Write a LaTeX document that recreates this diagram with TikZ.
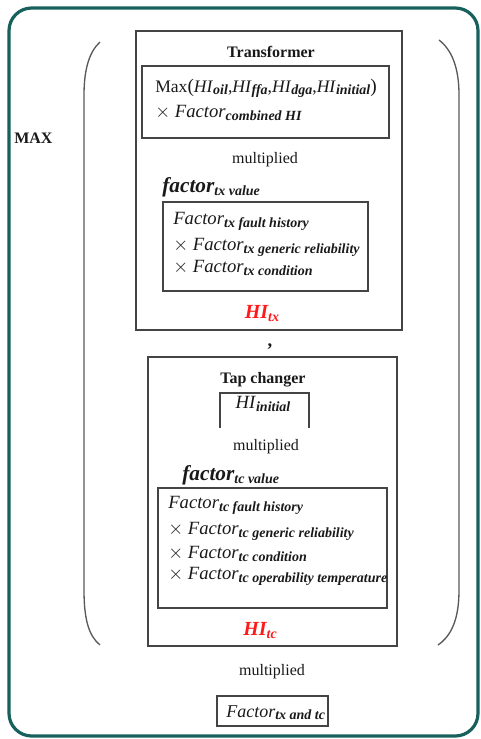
\documentclass[tikz,border=0pt]{standalone}
\usepackage{fontspec}
\setmainfont{Liberation Serif}
\usetikzlibrary{positioning}
\definecolor{frameteal}{HTML}{17605B}
\definecolor{boxgray}{HTML}{444444}
\definecolor{hired}{HTML}{FF1A1A}
\newcommand{\lowsub}[1]{\raisebox{-0.35ex}{\fontsize{10.5}{12}\selectfont\bfseries\itshape #1}}
\newcommand{\fac}[1]{\textit{Factor}\lowsub{#1}}
\newcommand{\hisub}[1]{\textit{HI}\lowsub{#1}}

\begin{document}
\begin{tikzpicture}[x=0.75pt,y=-0.75pt]
\tikzstyle{label} = [
	inner sep=0pt,
	text=black!90,
	font=\fontsize{12}{14}\selectfont
];
\tikzstyle{formula} = [
	label,
	anchor=base west,
	font=\fontsize{14}{16}\selectfont
];
\tikzstyle{result} = [
	label,
	anchor=base,
	text=hired,
	font=\fontsize{15}{16}\selectfont\bfseries\itshape
];
\tikzstyle{boxline} = [draw=boxgray, line width=1.1pt];
\tikzstyle{paren} = [draw=black!65, line width=1pt];

\useasboundingbox (0,0) rectangle (481,739);

%outer frame
\draw[frameteal, line width=2.4pt, rounded corners=17pt] (9,8) rectangle (478,736);

%max and brackets
\node[label, anchor=base west, font=\fontsize{12}{14}\selectfont\bfseries] (max) at (14,143) {MAX};
\draw[paren] (100,42) .. controls (89,52) and (84,70) .. (84,95) -- (84,590)
	.. controls (84,620) and (89,636) .. (100,645);
\draw[paren] (439,40) .. controls (452,50) and (459,68) .. (459,95) -- (459,590)
	.. controls (459,620) and (451,636) .. (438,645);

%transformer
\draw[boxline] (136,31) rectangle (402,330);
\node[label, anchor=base, font=\fontsize{12}{14}\selectfont\bfseries] (txtitle) at (271,57) {Transformer};
\draw[boxline] (142,66) rectangle (389,138);
\node[formula, font=\fontsize{13.2}{15}\selectfont] (txmax) at (155,92)
	{Max{\fontsize{14.5}{15}\selectfont(}\hisub{oil},\hisub{ffa},\hisub{dga},\hisub{initial}{\fontsize{14.5}{15}\selectfont)}};
\node[formula] (txcomb) at (155,117) {$\times$ \fac{combined HI}};
\node[label, anchor=base] (txmult) at (265,163) {multiplied};
\node[label, anchor=base west, font=\fontsize{16}{18}\selectfont\bfseries\itshape] (txvalue) at (162,192)
	{factor\lowsub{tx value}};
\draw[boxline] (163,202) rectangle (368,291);
\node[formula] (txfault) at (173,224) {\fac{tx fault history}};
\node[formula] (txgeneric) at (173,250) {$\times$ \fac{tx generic reliability}};
\node[formula] (txcond) at (173,272) {$\times$ \fac{tx condition}};
\node[result] (hitx) at (262,318) {HI\lowsub{tx}};

\node[label, anchor=base, font=\fontsize{14}{14}\selectfont\bfseries] (comma) at (270,346) {,};

%tap changer
\draw[boxline] (148,357) rectangle (397,646);
\node[label, anchor=base, font=\fontsize{12}{14}\selectfont\bfseries] (tctitle) at (263,383) {Tap changer};
\draw[boxline] (220,428) -- (220,393) -- (309,393) -- (309,428);
\node[formula, anchor=base] (tcinit) at (263,408) {\hisub{initial}};
\node[label, anchor=base] (tcmult) at (266,450) {multiplied};
\node[label, anchor=base west, font=\fontsize{16}{18}\selectfont\bfseries\itshape] (tcvalue) at (182,480)
	{factor\lowsub{tc value}};
\draw[boxline] (158,488) rectangle (387,608);
\node[formula] (tcfault) at (168,508) {\fac{tc fault history}};
\node[formula] (tcgeneric) at (168,534) {$\times$ \fac{tc generic reliability}};
\node[formula] (tccond) at (168,558) {$\times$ \fac{tc condition}};
\node[formula] (tcoper) at (168,579) {$\times$ \fac{tc operability temperature}};
\node[result] (hitc) at (260,635) {HI\lowsub{tc}};

%combined factor
\node[label, anchor=base] (mult) at (272,675) {multiplied};
\draw[boxline] (217,696) rectangle (328,726);
\node[formula, font=\fontsize{13.5}{15}\selectfont] (txtc) at (226,717) {\fac{tx and tc}};
\end{tikzpicture}
\end{document}
